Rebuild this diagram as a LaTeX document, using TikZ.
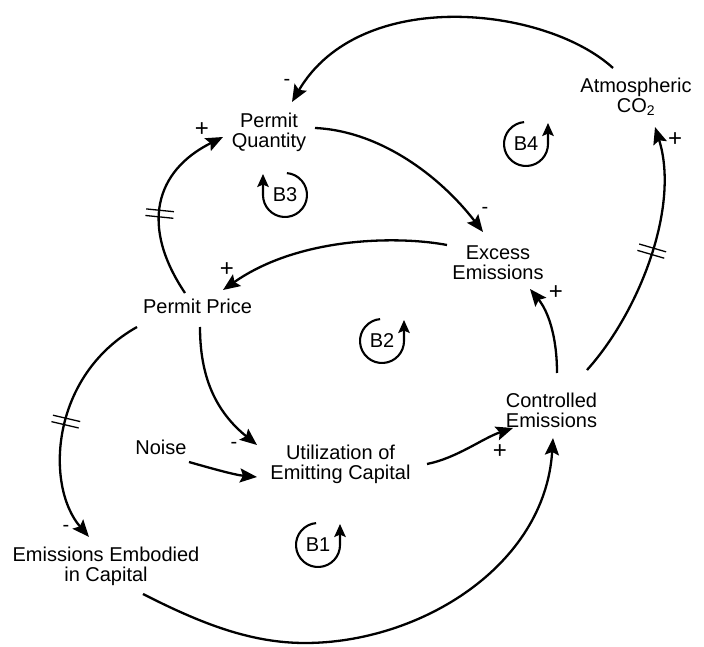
\documentclass[tikz,border=0pt]{standalone}
\usepackage{fontspec}
\setmainfont{Liberation Sans}
\usetikzlibrary{arrows.meta,decorations.markings}
\begin{document}
\begin{tikzpicture}[x=1pt,y=1pt,
  var/.style={font=\fontsize{20}{20}\selectfont, align=center, inner sep=0pt},
  pol/.style={font=\fontsize{24}{24}\selectfont, inner sep=0pt},
  neg/.style={font=\fontsize{20}{20}\selectfont, inner sep=0pt},
  link/.style={line width=2.3pt, -{Stealth[length=17pt,width=14pt,inset=3pt]}},
  loopmark/.style={line width=2.1pt, -{Stealth[length=13pt,width=11.5pt,inset=2.5pt]}},
  delay/.style={postaction={decorate}, decoration={markings, mark=at position #1 with {\draw[arrows=-, line width=1.3pt] (-3.3pt,-14pt)--(-3.3pt,14pt) (3.3pt,-14pt)--(3.3pt,14pt);}}},
]
\useasboundingbox (0,0) rectangle (704,646);

% variables
\node[var] (atm) at (636,549) {Atmospheric\\CO\textsubscript{2}};
\node[var] (pq) at (269,513.5) {Permit\\Quantity};
\node[var] (ex) at (498,383.5) {Excess\\Emissions};
\node[var] (pp) at (197.5,339.5) {Permit Price};
\node[var] (noise) at (161,199) {Noise};
\node[var] (util) at (340.5,181.5) {Utilization of\\Emitting Capital};
\node[var] (ctrl) at (551.5,236) {Controlled\\Emissions};
\node[var] (emb) at (106,79.5) {Emissions Embodied\\in Capital};

% loop markers
\node[var] (b1) at (318,101) {B1};
\node[var] (b2) at (382,305) {B2};
\node[var] (b3) at (285,451) {B3};
\node[var] (b4) at (526,502) {B4};
\draw[loopmark] ([shift={(95:22pt)}]b1.center) arc[start angle=95,end angle=360,radius=22pt] -- ++(0,21pt);
\draw[loopmark] ([shift={(95:22pt)}]b2.center) arc[start angle=95,end angle=360,radius=22pt] -- ++(0,21pt);
\draw[loopmark] ([shift={(95:22pt)}]b4.center) arc[start angle=95,end angle=360,radius=22pt] -- ++(0,21pt);
\draw[loopmark] ([shift={(85:22pt)}]b3.center) arc[start angle=85,end angle=-180,radius=22pt] -- ++(0,21pt);

% links
\draw[link] ([shift={(-23,29)}]atm.center) .. controls +(-68,62) and +(68,116) .. ([shift={(23,30.5)}]pq.center);
\draw[link] ([shift={(46,4.5)}]pq.center) .. controls +(65,-3) and +(-43,56) .. ([shift={(-15,30.5)}]ex.center);
\draw[link] ([shift={(-51,17.5)}]ex.center) .. controls +(-47,9) and +(77,54) .. ([shift={(25.5,16.5)}]pp.center);
\draw[link,delay=0.45] ([shift={(-12.5,13.5)}]pp.center) .. controls +(-45,67) and +(-68,-34) .. ([shift={(-46,-4.5)}]pq.center);
\draw[link] ([shift={(2.5,-20.5)}]pp.center) .. controls +(0,-49) and +(-42,34) .. ([shift={(-83.5,19.5)}]util.center);
\draw[link] ([shift={(28,-15)}]noise.center) .. controls +(21,-6) and +(-22,2) .. ([shift={(-83.5,-12.5)}]util.center);
\draw[link] ([shift={(86.5,0.5)}]util.center) .. controls +(30,6) and +(-30,-10) .. ([shift={(-38.5,-18)}]ctrl.center);
\draw[link] ([shift={(5.5,37)}]ctrl.center) .. controls +(0,37) and +(18,-22) .. ([shift={(32,-26.5)}]ex.center);
\draw[link,delay=0.52] ([shift={(35.5,40)}]ctrl.center) .. controls +(53,59) and +(25,-79) .. ([shift={(19,-30)}]atm.center);
\draw[link,delay=0.5] ([shift={(-60.5,-20.5)}]pp.center) .. controls +(-87,-49) and +(-44,51) .. ([shift={(-17,29.5)}]emb.center);
\coordinate (bot) at (305,3);
\draw[link] ([shift={(37,-27.5)}]emb.center) .. controls +(57,-29) and +(-55,0) .. (bot) .. controls +(115,0) and +(-8,-128) .. ([shift={(1.5,-28)}]ctrl.center);

% polarities
\node[neg] (s1) at (287,564) {-};
\node[pol] (s2) at (202,516) {+};
\node[neg] (s3) at (485,436) {-};
\node[pol] (s4) at (227,376) {+};
\node[pol] (s5) at (556,353) {+};
\node[pol] (s6) at (675,506) {+};
\node[neg] (s7) at (234,201) {-};
\node[pol] (s8) at (500,194) {+};
\node[neg] (s9) at (66,118) {-};
\end{tikzpicture}
\end{document}
